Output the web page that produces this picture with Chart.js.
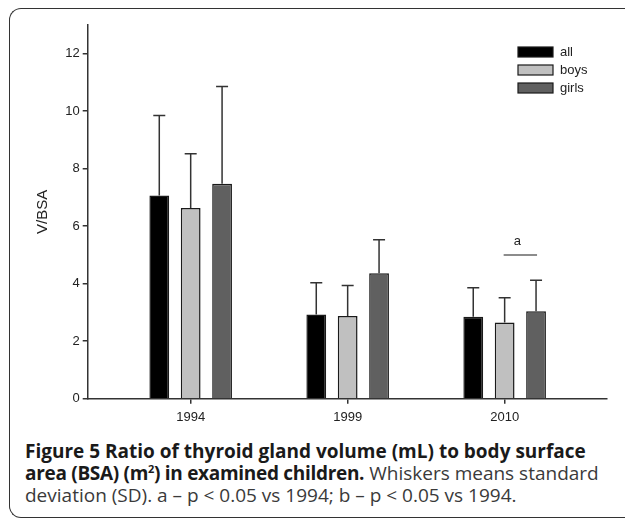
<!DOCTYPE html>
<html>
<head>
<meta charset="utf-8">
<script src="https://cdn.jsdelivr.net/npm/chart.js@4/dist/chart.umd.min.js"></script>
<style>
html, body { margin: 0; padding: 0; background: #fff; }
body { width: 625px; height: 520px; position: relative; overflow: hidden; }
#frame { position: absolute; left: 9px; top: 8px; width: 700px; height: 510px; border: 1.5px solid #333; border-right: none; border-radius: 12px 0 0 12px; box-sizing: border-box; }
#wrap { position: absolute; left: 0; top: 0; width: 625px; height: 430px; }
.cap { position: absolute; left: 25px; font-family: 'Open Sans', sans-serif; font-size: 19px; line-height: 20px; white-space: nowrap; color: #3a3a3a; }
.cap b { color: #1a1a1a; }
</style>
</head>
<body>
<div id="frame"></div>
<div id="wrap"><canvas id="chart" width="625" height="430"></canvas></div>
<div class="cap" style="top:441px"><b>Figure 5 Ratio of thyroid gland volume (mL) to body surface</b></div>
<div class="cap" style="top:463px"><b style="letter-spacing:-0.3px">area (BSA) (m<sup style="font-size:11px;line-height:0">2</sup>) in examined children.</b> Whiskers means standard</div>
<div class="cap" style="top:485px">deviation (SD). a &#8211; p &lt; 0.05 vs 1994; b &#8211; p &lt; 0.05 vs 1994.</div>
<script>
const years = ['1994', '1999', '2010'];
const groups = ['all', 'boys', 'girls'];
const groupColors = ['#000000', '#c0c0c0', '#606060'];

const meanAll = [7.07, 2.93, 2.85];
const meanBoys = [6.63, 2.88, 2.65];
const meanGirls = [7.48, 4.36, 3.04];

// whisker length = SD
const sdAll = [2.78, 1.10, 1.01];
const sdBoys = [1.89, 1.06, 0.86];
const sdGirls = [3.38, 1.17, 1.08];

const yTicks = [0, 2, 4, 6, 8, 10, 12];

// significance mark over 2010 (boys vs girls)
const sigLabel = 'a';
const sigYear = 2;
const sigValue = 5.0;

const axisFont = { family: "'Liberation Sans', Arial, sans-serif", size: 13 };

function toPoints(values) {
    return values.map((v, i) => ({ x: i, y: v }));
}

const whiskers = {
    id: 'whiskers',
    afterDatasetsDraw(chart) {
        const ctx = chart.ctx;
        const yScale = chart.scales.y;
        ctx.save();
        ctx.strokeStyle = '#333';
        ctx.lineWidth = 1.5;
        chart.data.datasets.forEach((ds, d) => {
            chart.getDatasetMeta(d).data.forEach((bar, i) => {
                const top = yScale.getPixelForValue(ds.data[i].y + ds.sd[i]);
                ctx.beginPath();
                ctx.moveTo(bar.x, bar.y);
                ctx.lineTo(bar.x, top);
                ctx.moveTo(bar.x - 6, top);
                ctx.lineTo(bar.x + 6, top);
                ctx.stroke();
            });
        });

        // significance line + letter
        const b1 = chart.getDatasetMeta(1).data[sigYear];
        const b2 = chart.getDatasetMeta(2).data[sigYear];
        const ly = yScale.getPixelForValue(sigValue);
        ctx.strokeStyle = '#666';
        ctx.beginPath();
        ctx.moveTo(b1.x - 1, ly);
        ctx.lineTo(b2.x + 1, ly);
        ctx.stroke();
        ctx.fillStyle = '#222';
        ctx.font = "13px 'Liberation Sans', Arial, sans-serif";
        ctx.textAlign = 'center';
        ctx.textBaseline = 'bottom';
        ctx.fillText(sigLabel, (b1.x + b2.x) / 2 - 3, ly - 7);
        ctx.restore();
    }
};

const boxLegend = {
    id: 'boxLegend',
    afterDraw(chart) {
        const ctx = chart.ctx;
        ctx.save();
        ctx.font = "13px 'Liberation Sans', Arial, sans-serif";
        ctx.textBaseline = 'middle';
        ctx.textAlign = 'left';
        chart.data.datasets.forEach((ds, i) => {
            const top = 47 + i * 18;
            ctx.fillStyle = ds.backgroundColor;
            ctx.fillRect(518, top, 35, 10);
            ctx.strokeStyle = '#1a1a1a';
            ctx.lineWidth = 1.2;
            ctx.strokeRect(518, top, 35, 10);
            ctx.fillStyle = '#222';
            ctx.fillText(ds.label, 560, top + 5);
        });
        ctx.restore();
    }
};

const sds = [sdAll, sdBoys, sdGirls];
const means = [meanAll, meanBoys, meanGirls];

new Chart(document.getElementById('chart'), {
    type: 'bar',
    data: {
        datasets: groups.map((g, i) => ({
            label: g,
            data: toPoints(means[i]),
            sd: sds[i],
            backgroundColor: groupColors[i],
            borderColor: '#1a1a1a',
            borderWidth: 1.5,
            borderSkipped: 'bottom'
        }))
    },
    options: {
        responsive: false,
        animation: false,
        layout: { padding: { top: 25, right: 18, left: 0, bottom: 0 } },
        plugins: { legend: { display: false }, tooltip: { enabled: false } },
        datasets: { bar: { categoryPercentage: 0.6, barPercentage: 0.63 } },
        scales: {
            x: {
                type: 'linear',
                offset: false,
                min: -0.656,
                max: 2.652,
                afterBuildTicks: s => { s.ticks = years.map((_, i) => ({ value: i })); },
                afterFit: s => { s.height = 31.3; },
                ticks: {
                    callback: (v, i) => years[i],
                    font: axisFont,
                    color: '#222',
                    padding: 6,
                    maxRotation: 0,
                    autoSkip: false
                },
                grid: { offset: false, drawOnChartArea: false, tickLength: 5, color: '#333', lineWidth: 1.5 },
                border: { color: '#333', width: 1.5 }
            },
            y: {
                min: 0,
                max: 13,
                afterBuildTicks: s => { s.ticks = yTicks.map(v => ({ value: v })); },
                afterFit: s => { s.width = 87.7; },
                ticks: { font: axisFont, color: '#222', padding: 3 },
                grid: { drawOnChartArea: false, tickLength: 5, color: '#333', lineWidth: 1.5 },
                border: { color: '#333', width: 1.5 },
                title: {
                    display: true,
                    text: 'V/BSA',
                    font: { family: axisFont.family, size: 15 },
                    color: '#222',
                    padding: { top: 34, bottom: 0 }
                }
            }
        }
    },
    plugins: [whiskers, boxLegend]
});
</script>
</body>
</html>
